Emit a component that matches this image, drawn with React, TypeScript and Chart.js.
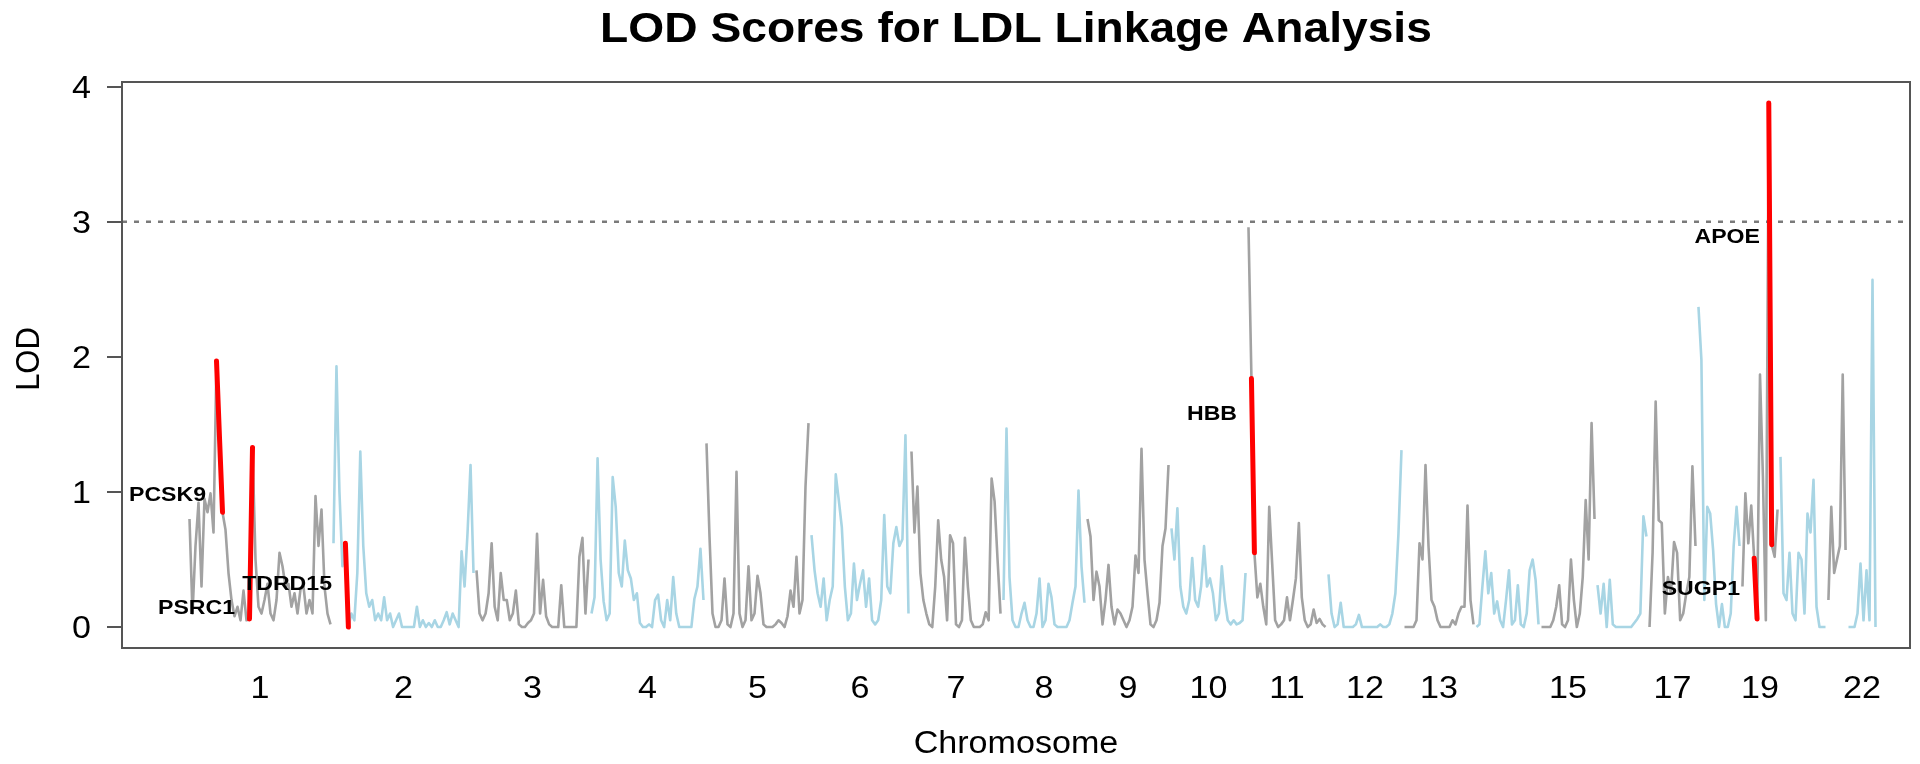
import React, { useEffect, useRef } from 'react';
import { Chart, registerables } from 'chart.js';

Chart.register(...registerables);

// ---------------- data ----------------
const chromosomes = ['1','2','3','4','5','6','7','8','9','10','11','12','13','14','15','16','17','18','19','20','21','22'];
// approximate genetic length of each chromosome (cM)
const chrLengths = [288, 286, 230, 230, 210, 200, 184, 168, 168, 154, 160, 152, 144, 130, 112, 104, 98, 88, 76, 96, 40, 60];
const shownChrLabels = ['1','2','3','4','5','6','7','8','9','10','11','12','13','15','17','19','22'];
const yTickValues = [0, 1, 2, 3, 4];
const lodThreshold = 3;

// LOD values at evenly spaced markers along each chromosome
const lod1 = [0.80,0.10,0.60,0.92,0.30,0.95,0.85,0.99,0.70,1.97,1.40,0.85,0.72,0.40,0.20,0.08,0.15,0.05,0.27,0.05,0.06,1.33,0.50,0.15,0.10,0.20,0.32,0.10,0.05,0.20,0.55,0.45,0.30,0.32,0.15,0.25,0.10,0.28,0.30,0.10,0.20,0.10,0.97,0.60,0.87,0.30,0.10,0.02];
const lod2 = [0.62,1.93,1.00,0.45,0.62,0.00,0.10,0.05,0.40,1.30,0.60,0.25,0.15,0.20,0.05,0.10,0.05,0.22,0.05,0.10,0.00,0.05,0.10,0.00,0.00,0.00,0.00,0.00,0.15,0.00,0.05,0.00,0.03,0.00,0.05,0.00,0.00,0.05,0.11,0.02,0.10,0.05,0.00,0.56,0.30,0.70,1.20,0.40];
const lod3 = [0.42,0.10,0.05,0.10,0.25,0.62,0.15,0.05,0.40,0.20,0.20,0.05,0.10,0.27,0.02,0.00,0.00,0.03,0.05,0.10,0.69,0.10,0.35,0.08,0.02,0.00,0.00,0.00,0.31,0.00,0.00,0.00,0.00,0.00,0.52,0.66,0.10,0.50];
const lod4 = [0.10,0.22,1.25,0.50,0.19,0.05,0.10,1.11,0.89,0.40,0.30,0.64,0.42,0.36,0.20,0.25,0.03,0.00,0.00,0.02,0.00,0.20,0.24,0.05,0.00,0.20,0.05,0.37,0.10,0.00,0.00,0.00,0.00,0.00,0.21,0.30,0.58,0.20];
const lod5 = [1.36,0.67,0.10,0.00,0.00,0.05,0.36,0.02,0.00,0.10,1.15,0.10,0.00,0.05,0.45,0.05,0.10,0.38,0.25,0.02,0.00,0.00,0.00,0.02,0.05,0.03,0.00,0.08,0.27,0.15,0.52,0.10,0.20,1.04,1.51];
const lod6 = [0.68,0.42,0.25,0.15,0.36,0.05,0.20,0.30,1.13,0.94,0.74,0.30,0.05,0.10,0.47,0.20,0.32,0.42,0.15,0.36,0.05,0.02,0.05,0.20,0.83,0.30,0.25,0.62,0.74,0.60,0.65,1.42,0.10];
const lod7 = [1.30,0.70,1.04,0.40,0.20,0.10,0.02,0.00,0.30,0.79,0.50,0.37,0.05,0.68,0.62,0.02,0.00,0.05,0.66,0.30,0.05,0.00,0.00,0.00,0.02,0.11,0.05,1.10,0.93,0.50,0.10];
const lod8 = [0.20,1.47,0.37,0.05,0.00,0.00,0.10,0.18,0.05,0.00,0.00,0.10,0.36,0.00,0.05,0.32,0.22,0.02,0.00,0.00,0.00,0.00,0.05,0.18,0.30,1.01,0.45,0.18];
const lod9 = [0.80,0.67,0.20,0.41,0.30,0.02,0.20,0.46,0.15,0.02,0.13,0.10,0.05,0.00,0.05,0.15,0.53,0.40,1.32,0.50,0.25,0.02,0.00,0.05,0.18,0.60,0.73,1.20];
const lod10 = [0.73,0.50,0.88,0.30,0.15,0.10,0.20,0.51,0.20,0.15,0.30,0.60,0.30,0.36,0.25,0.05,0.10,0.45,0.20,0.05,0.02,0.05,0.02,0.03,0.05,0.40];
const lod11 = [2.96,1.84,0.55,0.22,0.32,0.15,0.02,0.89,0.47,0.05,0.00,0.02,0.05,0.22,0.05,0.20,0.36,0.77,0.22,0.05,0.00,0.02,0.13,0.03,0.06,0.02,0.00];
const lod12 = [0.39,0.10,0.00,0.02,0.18,0.00,0.00,0.00,0.00,0.02,0.09,0.00,0.00,0.00,0.00,0.00,0.00,0.02,0.00,0.00,0.02,0.10,0.25,0.69,1.31];
const lod13 = [0.00,0.00,0.00,0.00,0.05,0.62,0.50,1.20,0.60,0.20,0.15,0.05,0.00,0.00,0.00,0.00,0.05,0.02,0.10,0.15,0.15,0.90,0.20,0.02];
const lod14 = [0.00,0.02,0.30,0.56,0.25,0.40,0.10,0.19,0.05,0.00,0.20,0.42,0.02,0.05,0.31,0.02,0.00,0.10,0.42,0.50,0.35,0.02];
const lod15 = [0.00,0.00,0.00,0.00,0.05,0.15,0.31,0.02,0.00,0.05,0.50,0.20,0.00,0.10,0.37,0.94,0.50,1.51,0.80];
const lod16 = [0.31,0.10,0.32,0.00,0.35,0.02,0.00,0.00,0.00,0.00,0.00,0.00,0.03,0.06,0.10,0.82,0.67];
const lod17 = [0.00,0.55,1.67,0.79,0.77,0.10,0.37,0.25,0.63,0.55,0.05,0.10,0.25,0.37,1.19,0.60];
const lod18 = [2.37,1.98,0.20,0.89,0.84,0.57,0.17,0.00,0.17,0.00,0.00,0.10,0.60,0.89,0.60];
const lod19 = [0.30,0.99,0.62,0.90,0.51,0.06,1.87,1.11,0.05,3.88,0.61,0.52,0.87];
const lod20 = [1.26,0.25,0.20,0.55,0.10,0.05,0.55,0.50,0.10,0.84,0.70,1.09,0.15,0.00,0.00,0.00];
const lod21 = [0.20,0.89,0.40,0.50,0.60,1.87,0.57];
const lod22 = [0.00,0.00,0.00,0.10,0.47,0.05,0.42,0.05,2.57,0.00];
const lodByChr = [lod1, lod2, lod3, lod4, lod5, lod6, lod7, lod8, lod9, lod10, lod11, lod12, lod13, lod14, lod15, lod16, lod17, lod18, lod19, lod20, lod21, lod22];

// candidate genes: highlighted marker ranges and label anchors (genome cM, LOD)
const geneNames = ['PCSK9', 'PSRC1', 'TDRD15', 'HBB', 'SUGP1', 'APOE'];
const geneChr = ['1', '1', '2', '11', '19', '19'];
const geneMarkerFrom = [9, 20, 4, 1, 4, 9];
const geneMarkerTo = [11, 21, 5, 2, 5, 10];
const geneLabelX = [36, 94, 288, 2098, 3104, 3144];
const geneLabelY = [0.99, 0.15, 0.33, 1.59, 0.29, 2.9];

const X_MIN = -132;
const X_MAX = 3444;
const Y_MIN = -0.155;
const Y_MAX = 4.035;

// ---------------- styles ----------------
const W = 1920;
const H = 764;
const GRAY = '#a2a2a2';
const BLUE = '#a8d5e4';
const RED = '#ff0000';
const FONT = '"Liberation Sans", Arial, Helvetica, sans-serif';
const SX = 1.1; // horizontal stretch of text in the reference

function stretchedText(ctx: CanvasRenderingContext2D, text: string, x: number, y: number, font: string, align: CanvasTextAlign, rotate = false) {
  ctx.save();
  ctx.translate(x, y);
  if (rotate) {
    ctx.rotate(-Math.PI / 2);
    ctx.scale(1, SX);
  } else {
    ctx.scale(SX, 1);
  }
  ctx.font = font;
  ctx.textAlign = align;
  ctx.textBaseline = 'alphabetic';
  ctx.fillStyle = '#000';
  ctx.fillText(text, 0, 0);
  ctx.restore();
}

export default function App() {
  const ref = useRef<HTMLCanvasElement>(null);

  useEffect(() => {
    const canvas = ref.current;
    if (!canvas) return;

    const starts: number[] = [];
    let acc = 0;
    chrLengths.forEach((len) => { starts.push(acc); acc += len; });
    const mids = chrLengths.map((len, i) => starts[i] + len / 2);

    const chrPoints = lodByChr.map((vals, c) => {
      const step = chrLengths[c] / vals.length;
      return vals.map((v, i) => ({ x: starts[c] + (i + 0.5) * step, y: v }));
    });

    const datasets: any[] = [];
    chrPoints.forEach((pts, c) => {
      datasets.push({
        label: 'chr' + chromosomes[c],
        data: pts,
        borderColor: c % 2 === 0 ? GRAY : BLUE,
        borderWidth: 2.6,
        pointRadius: 0,
        tension: 0,
        borderJoinStyle: 'round',
        order: 3,
      });
    });
    geneNames.forEach((g, k) => {
      const c = chromosomes.indexOf(geneChr[k]);
      datasets.push({
        label: g,
        data: chrPoints[c].slice(geneMarkerFrom[k], geneMarkerTo[k] + 1),
        borderColor: RED,
        borderWidth: 5,
        pointRadius: 0,
        tension: 0,
        borderCapStyle: 'round',
        borderJoinStyle: 'round',
        order: 1,
      });
    });
    datasets.push({
      label: 'threshold',
      data: [{ x: X_MIN, y: lodThreshold }, { x: X_MAX, y: lodThreshold }],
      borderColor: '#7a7a7a',
      borderWidth: 2.5,
      borderDash: [5, 7],
      pointRadius: 0,
      order: 2,
    });

    const textPlugin = {
      id: 'textPlugin',
      afterDraw(chart: any) {
        const ctx: CanvasRenderingContext2D = chart.ctx;
        const area = chart.chartArea;
        const xs = chart.scales.x;
        const ys = chart.scales.y;
        // box
        ctx.save();
        ctx.strokeStyle = '#555';
        ctx.lineWidth = 2;
        ctx.strokeRect(area.left, area.top, area.right - area.left, area.bottom - area.top);
        ctx.restore();
        const cx = (area.left + area.right) / 2;
        // title
        stretchedText(ctx, 'LOD Scores for LDL Linkage Analysis', cx, 42, 'bold 42px ' + FONT, 'center');
        // axis titles
        stretchedText(ctx, 'Chromosome', cx, 753, '31px ' + FONT, 'center');
        stretchedText(ctx, 'LOD', 39, (area.top + area.bottom) / 2 - 6, '31px ' + FONT, 'center', true);
        // y tick labels
        yTickValues.forEach((v) => {
          stretchedText(ctx, String(v), 91, ys.getPixelForValue(v) + 11.3, '31px ' + FONT, 'right');
        });
        // x tick labels
        chromosomes.forEach((c, i) => {
          if (shownChrLabels.indexOf(c) < 0) return;
          stretchedText(ctx, c, xs.getPixelForValue(mids[i]), 698, '31px ' + FONT, 'center');
        });
        // gene labels
        geneNames.forEach((g, k) => {
          stretchedText(ctx, g, xs.getPixelForValue(geneLabelX[k]), ys.getPixelForValue(geneLabelY[k]) + 7.5, 'bold 21px ' + FONT, 'right');
        });
      },
    };

    const chart = new Chart(canvas, {
      type: 'line',
      data: { datasets },
      options: {
        animation: false,
        responsive: false,
        devicePixelRatio: 1,
        events: [],
        layout: { padding: { top: 82, right: 10, left: 0, bottom: 0 } },
        plugins: {
          legend: { display: false },
          tooltip: { enabled: false },
          title: { display: false },
        },
        scales: {
          x: {
            type: 'linear',
            min: X_MIN,
            max: X_MAX,
            afterFit: (s: any) => { s.height = 116; },
            afterBuildTicks: (s: any) => { s.ticks = mids.map((v) => ({ value: v })); },
            ticks: { display: false },
            grid: { display: false },
            border: { display: false },
          },
          y: {
            type: 'linear',
            min: Y_MIN,
            max: Y_MAX,
            afterFit: (s: any) => { s.width = 122; },
            afterBuildTicks: (s: any) => { s.ticks = yTickValues.map((v) => ({ value: v })); },
            ticks: { display: false },
            grid: { drawOnChartArea: false, drawTicks: true, tickLength: 15, color: '#555', lineWidth: 2 },
            border: { display: false },
          },
        },
      } as any,
      plugins: [textPlugin],
    });

    return () => { chart.destroy(); };
  }, []);

  return (
    <div style={{ position: 'fixed', left: 0, top: 0, width: W, height: H, background: '#fff' }}>
      <canvas ref={ref} width={W} height={H} style={{ display: 'block', width: W, height: H }} />
    </div>
  );
}
